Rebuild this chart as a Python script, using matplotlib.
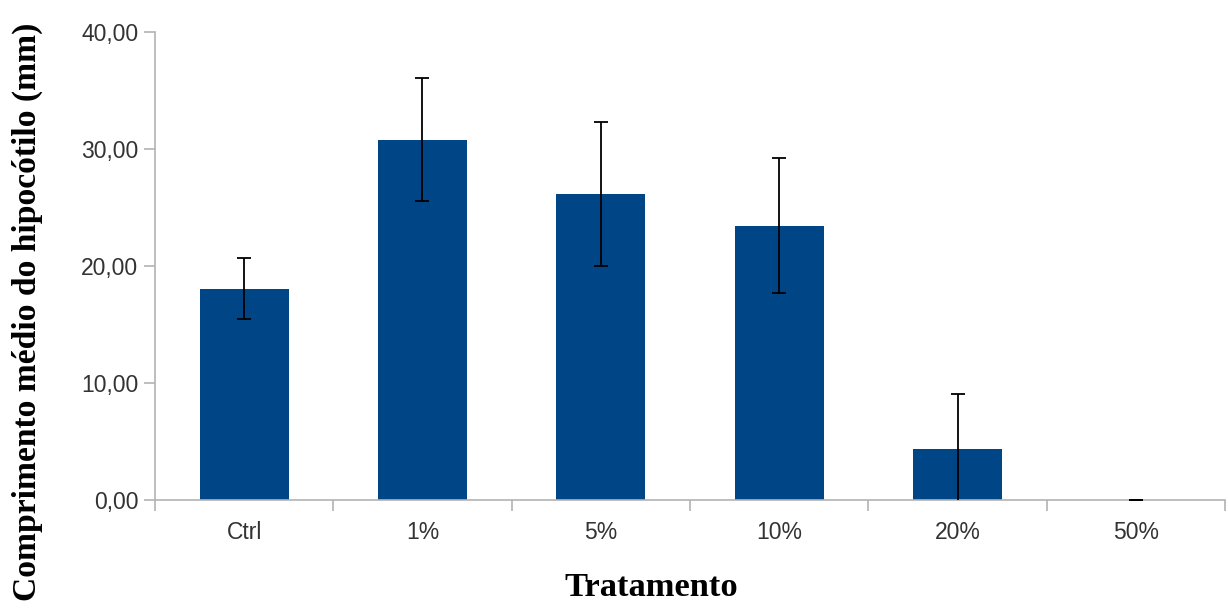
import numpy as np
import matplotlib.pyplot as plt
from matplotlib.ticker import FuncFormatter

categorias = ["Ctrl", "1%", "5%", "10%", "20%", "50%"]
medias = [18.05, 30.8, 26.15, 23.45, 4.35, 0.0]
desvios = [2.6, 5.25, 6.15, 5.75, 4.7, 0.0]

fig = plt.figure(figsize=(12.28, 6.10), dpi=100)
ax = fig.add_axes([0.1262, 0.1803, 0.8714, 0.7672])

x = np.arange(len(categorias))
ax.bar(x, medias, width=0.5, color="#004586", zorder=2)
ax.errorbar(x, medias, yerr=desvios, fmt="none", ecolor="black",
            elinewidth=1.3, capsize=5, capthick=1.3, zorder=3)

ax.set_xlim(-0.5, len(categorias) - 0.5)
ax.set_ylim(0, 40)
ax.set_yticks([0, 10, 20, 30, 40])
ax.yaxis.set_major_formatter(FuncFormatter(lambda v, p: f"{v:.2f}".replace(".", ",")))

ax.set_xticks(x)
ax.set_xticklabels(categorias)
ax.set_xticks(np.arange(len(categorias) + 1) - 0.5, minor=True)
ax.tick_params(axis="x", which="major", length=0, pad=15)
ax.tick_params(axis="x", which="minor", length=8, color="#b3b3b3", width=1.2)
ax.tick_params(axis="y", length=8, color="#b3b3b3", width=1.2, pad=4)

for lab in ax.get_xticklabels() + ax.get_yticklabels():
    lab.set_fontfamily("Liberation Sans")
    lab.set_fontsize(16.5)
    lab.set_color("#333333")

for s in ["top", "right"]:
    ax.spines[s].set_visible(False)
for s in ["left", "bottom"]:
    ax.spines[s].set_color("#b3b3b3")
    ax.spines[s].set_linewidth(1.2)

ax.set_xlabel("Tratamento", fontfamily="Liberation Serif", fontweight="bold",
              fontsize=24.8, va="center")
ax.set_ylabel("Comprimento médio do hipocótilo (mm)", fontfamily="Liberation Serif",
              fontweight="bold", fontsize=24.2, va="center")
ax.xaxis.set_label_coords(0.464, -0.188)
ax.yaxis.set_label_coords(-0.119, 0.402)

fig.savefig("out.png", dpi=100)
